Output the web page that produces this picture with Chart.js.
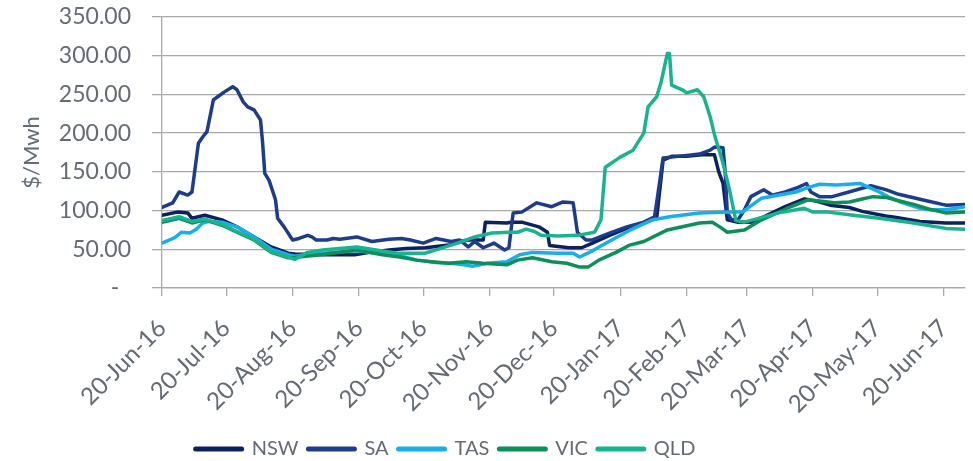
<!DOCTYPE html>
<html>
<head>
<meta charset="utf-8">
<script src="https://cdn.jsdelivr.net/npm/chart.js@4.4.1/dist/chart.umd.min.js"></script>
<style>
  html, body { margin: 0; padding: 0; background: #fff; }
  #wrap { width: 973px; height: 461px; position: relative; }
</style>
</head>
<body>
<div id="wrap"><canvas id="precioChart"></canvas></div>
<script>
// fechas del eje x (dias desde 20-Jun-16) y precios $/Mwh
const tickLabels = ['20-Jun-16', '20-Jul-16', '20-Aug-16', '20-Sep-16', '20-Oct-16', '20-Nov-16',
    '20-Dec-16', '20-Jan-17', '20-Feb-17', '20-Mar-17', '20-Apr-17', '20-May-17', '20-Jun-17'];
const lastDay = 375;

const nswData = [[0,94],[7,98],[12,97],[14,90],[20,94],[28,88],[35,79],[43,66],[51,53],[59,45],[62,44],
    [75,43],[90,43],[97,46],[106,49],[114,51],[123,52],[135,56],[139,60],[143,62],[150,62],[151,85],
    [161,84],[163,85],[168,85],[176,79],[180,72],[181,55],[190,52],[196,52],[201,58],[209,68],[217,77],
    [225,84],[231,90],[234,165],[238,170],[245,170],[252,172],[258,172],[260,150],[262,135],[264,88],
    [269,85],[275,85],[281,92],[291,105],[300,115],[306,112],[312,107],[321,104],[327,99],[338,93],
    [343,91],[354,86],[366,84],[375,84]];

const saData = [[0,104],[5,110],[8,124],[12,120],[14,124],[17,187],[19,195],[21,202],[24,243],[26,247],
    [29,253],[33,260],[35,256],[38,240],[40,234],[43,230],[46,217],[47,187],[48,148],[50,139],[53,114],
    [54,90],[57,79],[61,62],[64,64],[68,68],[70,66],[72,62],[77,62],[80,64],[83,63],[91,66],[98,60],
    [106,63],[112,64],[116,62],[122,58],[128,64],[135,60],[139,62],[143,53],[146,60],[150,52],[155,58],
    [160,49],[162,52],[164,97],[168,98],[175,110],[182,105],[187,111],[192,110],[194,72],[198,62],
    [201,62],[209,71],[217,79],[225,85],[230,92],[231,110],[234,168],[241,170],[251,173],[256,178],
    [258,182],[262,181],[263,150],[264,97],[266,88],[269,88],[272,101],[275,118],[281,127],[285,120],
    [291,124],[297,130],[301,135],[303,124],[307,118],[313,118],[322,125],[331,132],[338,127],[344,121],
    [352,116],[358,112],[366,107],[375,108]];

const tasData = [[0,58],[6,65],[9,72],[13,71],[16,76],[19,84],[22,86],[28,85],[35,79],[43,66],[51,50],
    [59,43],[62,41],[64,42],[75,45],[91,48],[103,44],[112,41],[119,36],[128,33],[135,32],[141,30],
    [145,28],[152,32],[161,34],[167,43],[173,46],[185,45],[192,45],[195,40],[201,48],[210,62],[218,74],
    [229,88],[237,92],[251,97],[265,98],[271,98],[280,116],[296,124],[302,130],[307,134],[315,133],
    [326,135],[335,124],[339,118],[345,111],[354,103],[359,101],[366,101],[375,105]];

const vicData = [[0,85],[8,90],[14,84],[20,88],[28,81],[35,72],[43,62],[51,46],[59,39],[62,39],[64,40],
    [74,43],[91,49],[103,43],[111,40],[119,36],[126,34],[134,32],[142,34],[150,32],[161,30],[166,36],
    [173,39],[182,34],[189,32],[195,27],[199,27],[204,36],[212,46],[218,55],[225,60],[236,75],[251,84],
    [257,85],[261,78],[264,72],[272,75],[280,88],[292,103],[302,114],[314,110],[321,111],[327,115],
    [332,118],[338,117],[345,112],[351,108],[358,102],[366,97],[375,98]];

const qldData = [[0,87],[8,92],[14,86],[20,89],[28,82],[35,73],[43,63],[51,47],[59,40],[62,37],[68,46],
    [75,49],[91,53],[100,49],[110,45],[123,45],[138,58],[146,66],[154,71],[162,72],[166,72],[170,76],
    [174,73],[177,68],[185,67],[194,68],[202,72],[205,88],[207,156],[214,169],[220,178],[225,200],
    [227,234],[231,247],[233,265],[236,303],[237,303],[238,262],[243,256],[245,252],[250,256],[253,247],
    [256,221],[258,198],[262,161],[265,127],[268,87],[272,85],[288,97],[300,103],[304,98],[311,98],
    [323,94],[335,90],[351,84],[366,77],[375,76]];

const monthNames = ['Jan','Feb','Mar','Apr','May','Jun','Jul','Aug','Sep','Oct','Nov','Dec'];
function diaDesdeInicio(label) {
    const [d, m, y] = label.split('-');
    return (Date.UTC(2000 + Number(y), monthNames.indexOf(m), Number(d)) - Date.UTC(2016, 5, 20)) / 86400000;
}
const tickDays = tickLabels.map(diaDesdeInicio);

const textColor = '#646b73';
const gridColor = '#a9a9a9';
const fontFamily = 'Lato, "Open Sans", sans-serif';

function serie(label, data, color, order) {
    return {
        label: label,
        data: data,
        borderColor: color,
        backgroundColor: color,
        borderWidth: 3.5,
        borderCapStyle: 'round',
        borderJoinStyle: 'round',
        pointRadius: 0,
        tension: 0,
        order: order
    };
}

// la leyenda del original esta algo corrida a la izquierda
const moverLeyenda = {
    id: 'moverLeyenda',
    afterLayout(chart) {
        if (chart.legend) {
            chart.legend.left -= 37;
            chart.legend.right -= 37;
        }
    }
};

const ctx = document.getElementById('precioChart');
new Chart(ctx, {
    type: 'line',
    data: {
        datasets: [
            serie('NSW', nswData, '#0c2160', 5),
            serie('SA', saData, '#1d3d8a', 4),
            serie('TAS', tasData, '#1aaee9', 3),
            serie('VIC', vicData, '#0d8f57', 2),
            serie('QLD', qldData, '#19b38f', 1)
        ]
    },
    plugins: [moverLeyenda],
    options: {
        responsive: true,
        maintainAspectRatio: false,
        animation: false,
        layout: { padding: { left: 0, right: 8, top: 17, bottom: -8 } },
        plugins: {
            tooltip: { enabled: false },
            legend: {
                position: 'bottom',
                labels: {
                    usePointStyle: true,
                    pointStyle: 'line',
                    pointStyleWidth: 46,
                    color: textColor,
                    padding: 10,
                    font: { family: fontFamily, size: 20 },
                    sort: (a, b) => a.datasetIndex - b.datasetIndex,
                    generateLabels: (chart) => {
                        const items = Chart.defaults.plugins.legend.labels.generateLabels(chart);
                        items.forEach(it => { it.lineWidth = 5; it.lineCap = 'round'; });
                        return items;
                    }
                }
            }
        },
        scales: {
            x: {
                type: 'linear',
                min: 0,
                max: lastDay,
                afterBuildTicks: (scale) => {
                    scale.ticks = tickDays.map(v => ({ value: v }));
                },
                afterFit: (scale) => {
                    scale.height = 141;
                    scale.paddingLeft = 0;
                    scale.paddingRight = 0;
                },
                ticks: {
                    autoSkip: false,
                    minRotation: 45,
                    maxRotation: 45,
                    padding: 18,
                    color: textColor,
                    font: { family: fontFamily, size: 24 },
                    callback: (value, index) => tickLabels[index]
                },
                grid: { drawOnChartArea: false, drawTicks: true, tickLength: 8, color: gridColor, lineWidth: 1.3 },
                border: { display: true, color: gridColor, width: 1.3 }
            },
            y: {
                min: 0,
                max: 350,
                afterFit: (scale) => {
                    scale.width = 162;
                    scale.paddingTop = 0;
                    scale.paddingBottom = 0;
                },
                ticks: {
                    stepSize: 50,
                    padding: 21,
                    color: textColor,
                    font: { family: fontFamily, size: 23 },
                    callback: (value) => value === 0 ? '-  ' : value.toFixed(2)
                },
                grid: { color: gridColor, lineWidth: 1.3, tickLength: 10 },
                border: { display: true, color: gridColor, width: 1.3 },
                title: {
                    display: true,
                    text: '$/Mwh',
                    color: textColor,
                    font: { family: fontFamily, size: 22 },
                    padding: { top: 19, bottom: 0 }
                }
            }
        }
    }
});
</script>
</body>
</html>
